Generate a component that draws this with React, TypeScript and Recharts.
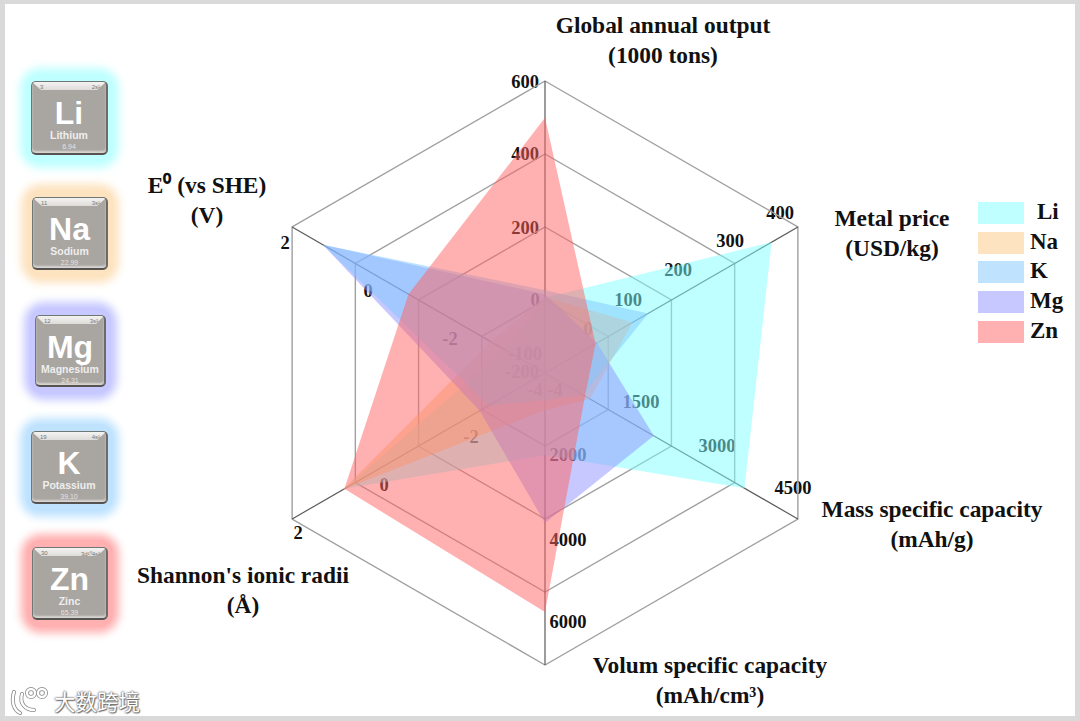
import { RadarChart, Radar, PolarGrid, PolarAngleAxis, PolarRadiusAxis } from "recharts"

const axisNames = ["output", "price", "mass", "volum", "ionic", "e0"]
const axisMin = [-200, -100, 0, 0, -4, -4]
const axisMax = [600, 400, 4500, 6000, 2, 2]

const li = [6, 348, 3550, 1685, 0.76, -3.04]
const na = [8, 73, 800, 760, 0.8, -2.71]
const k = [27, 104, 675, 560, -2.66, 1.27]
const mg = [16, 3, 1935, 3080, -2.45, 1.27]
const zn = [499, 0, 712, 4910, 0.76, -0.76]

const seriesNames = ["Li", "Na", "K", "Mg", "Zn"]
const seriesValues = [li, na, k, mg, zn]
const seriesColors = ["#7fffff", "#fbc77f", "#7fc7ff", "#8d91ff", "#ff6161"]
const swatchColors = ["#bfffff", "#fde3bf", "#bfe3ff", "#c6c8ff", "#ffb0b0"]
// K goes over Mg in the picture, the legend keeps its own order
const drawOrder = [0, 1, 3, 2, 4]

const chartData = axisNames.map((axis, i) => {
  const row: Record<string, string | number> = { axis }
  seriesNames.forEach((name, s) => {
    row[name] = (seriesValues[s][i] - axisMin[i]) / (axisMax[i] - axisMin[i])
  })
  return row
})

const titles = [
  { x: 663, y: 33, lines: ["Global annual output", "(1000 tons)"] },
  { x: 892, y: 226, lines: ["Metal price", "(USD/kg)"] },
  { x: 932, y: 517, lines: ["Mass specific capacity", "(mAh/g)"] },
  { x: 710, y: 673, lines: ["Volum specific capacity", "(mAh/cm³)"] },
  { x: 243, y: 583, lines: ["Shannon's ionic radii", "(Å)"] },
  { x: 207, y: 193, lines: ["E⁰ (vs SHE)", "(V)"] },
]

const tickLabels = [
  { t: "600", x: 525, y: 82 }, { t: "400", x: 525, y: 154 }, { t: "200", x: 525, y: 228 }, { t: "0", x: 535, y: 300 },
  { t: "-200", x: 522, y: 372 }, { t: "-100", x: 525, y: 354 },
  { t: "400", x: 780, y: 213 }, { t: "300", x: 730, y: 241 }, { t: "200", x: 678, y: 270 }, { t: "100", x: 628, y: 300 }, { t: "0", x: 588, y: 329 },
  { t: "4500", x: 793, y: 488 }, { t: "3000", x: 717, y: 446 }, { t: "1500", x: 641, y: 402 },
  { t: "2000", x: 568, y: 455 }, { t: "4000", x: 568, y: 540 }, { t: "6000", x: 568, y: 622 },
  { t: "2", x: 298, y: 533 }, { t: "0", x: 384, y: 485 }, { t: "-2", x: 471, y: 437 }, { t: "-4", x: 555, y: 390 },
  { t: "2", x: 285, y: 243 }, { t: "0", x: 368, y: 291 }, { t: "-2", x: 450, y: 339 }, { t: "-4", x: 535, y: 390 },
]

const tiles = [
  { sym: "Li", name: "Lithium", mass: "6.94", no: "3", cfg: "2s¹", x: 31, y: 81, w: 77, h: 74, glow: "#bfffff" },
  { sym: "Na", name: "Sodium", mass: "22.99", no: "11", cfg: "3s¹", x: 32, y: 197, w: 76, h: 73, glow: "#fde3bf" },
  { sym: "Mg", name: "Magnesium", mass: "24.31", no: "12", cfg: "3s²", x: 35, y: 315, w: 71, h: 72, glow: "#c6c8ff" },
  { sym: "K", name: "Potassium", mass: "39.10", no: "19", cfg: "4s¹", x: 31, y: 431, w: 77, h: 73, glow: "#bfe3ff" },
  { sym: "Zn", name: "Zinc", mass: "65.39", no: "30", cfg: "3d¹⁰4s²", x: 32, y: 547, w: 76, h: 73, glow: "#ffb0b0" },
]

const serif = "'Liberation Serif', serif"
const sans = "'Liberation Sans', sans-serif"

function AxisTitle({ index }: any) {
  const title = titles[index]
  if (!title) return null
  return (
    <text x={title.x} y={title.y} textAnchor="middle" fontFamily={serif} fontWeight="bold" fontSize={23.4} fill="#111">
      {title.lines.map((line, i) => (
        <tspan key={i} x={title.x} dy={i === 0 ? 0 : 30}>
          {line}
        </tspan>
      ))}
    </text>
  )
}

function ElementTile({ tile }: { tile: (typeof tiles)[number] }) {
  return (
    <>
      <div
        style={{
          position: "absolute",
          left: tile.x - 5,
          top: tile.y - 7,
          width: tile.w + 10,
          height: tile.h + 14,
          borderRadius: 14,
          background: tile.glow,
          boxShadow: `0 0 8px 6px ${tile.glow}`,
        }}
      />
      <div
        style={{
          position: "absolute",
          left: tile.x,
          top: tile.y,
          width: tile.w,
          height: tile.h,
          boxSizing: "border-box",
          borderRadius: 5,
          border: "1px solid #6f7774",
          borderBottom: "2px solid #55524f",
          borderRight: "2px solid #6d6a68",
          background: "#a9a5a0",
          boxShadow: "inset 0 -2px 2px #d8d6d3",
          color: "#fff",
          fontFamily: sans,
          textAlign: "center",
          overflow: "hidden",
        }}
      >
        <div
          style={{
            position: "absolute",
            left: 0,
            right: 0,
            top: 0,
            height: 8,
            background: "linear-gradient(#f4f3f1, #dedcd9)",
            clipPath: "polygon(0 0, 100% 0, 88% 100%, 12% 100%)",
          }}
        />
        <div style={{ position: "absolute", left: 8, top: 2, fontSize: 6, color: "#777" }}>{tile.no}</div>
        <div style={{ position: "absolute", right: 6, top: 2, fontSize: 6, color: "#777" }}>{tile.cfg}</div>
        <div style={{ position: "absolute", left: 0, right: 0, top: 14, fontSize: 32, fontWeight: "bold", lineHeight: "34px" }}>
          {tile.sym}
        </div>
        <div style={{ position: "absolute", left: 0, right: 0, top: 47, fontSize: 10.5, fontWeight: "bold", lineHeight: "12px", color: "#eee" }}>
          {tile.name}
        </div>
        <div style={{ position: "absolute", left: 0, right: 0, top: 60, fontSize: 7, lineHeight: "9px", color: "#e4e4e4" }}>{tile.mass}</div>
      </div>
    </>
  )
}

export default function App() {
  return (
    <div style={{ position: "absolute", left: 0, top: 0, width: 1080, height: 721, background: "#d9d9d9", overflow: "hidden" }}>
      <div style={{ position: "absolute", left: 5, top: 4, width: 1070, height: 712, background: "#fff" }} />

      <svg width={1080} height={721} style={{ position: "absolute", left: 0, top: 0 }}>
        {tickLabels.map((l, i) => (
          <text key={i} x={l.x} y={l.y} dy="0.35em" textAnchor="middle" fontFamily={serif} fontWeight="bold" fontSize={18.5} fill="#111">
            {l.t}
          </text>
        ))}
      </svg>

      <div style={{ position: "absolute", left: 0, top: 0 }}>
        <RadarChart width={1080} height={721} data={chartData} cx={545} cy={373} outerRadius={292} margin={{ top: 0, right: 0, bottom: 0, left: 0 }}>
          <PolarGrid gridType="polygon" polarRadius={[73, 146, 219, 292]} radialLines={false} stroke="#a0a0a0" strokeWidth={1.4} />
          <PolarGrid gridType="polygon" polarRadius={[]} stroke="#5a5a5a" strokeWidth={1.2} />
          <PolarAngleAxis dataKey="axis" tick={<AxisTitle />} axisLine={false} tickLine={false} />
          <PolarRadiusAxis domain={[0, 1]} tick={false} axisLine={false} />
          {drawOrder.map((s) => (
            <Radar
              key={seriesNames[s]}
              dataKey={seriesNames[s]}
              name={seriesNames[s]}
              stroke="none"
              fill={seriesColors[s]}
              fillOpacity={0.5}
              isAnimationActive={false}
            />
          ))}
        </RadarChart>
      </div>

      {tiles.map((tile) => (
        <ElementTile key={tile.sym} tile={tile} />
      ))}

      {seriesNames.map((name, s) => (
        <div key={name}>
          <div style={{ position: "absolute", left: 978, top: 202 + s * 29.7, width: 46, height: 22, background: swatchColors[s] }} />
          <div
            style={{
              position: "absolute",
              left: s === 0 ? 1037 : 1030,
              top: 200 + s * 29.7,
              fontFamily: serif,
              fontWeight: "bold",
              fontSize: 23,
              lineHeight: "24px",
              color: "#111",
            }}
          >
            {name}
          </div>
        </div>
      ))}

      <svg width={50} height={30} style={{ position: "absolute", left: 8, top: 686 }}>
        <g fill="none" stroke="#8a8a8a" strokeWidth={4} strokeLinecap="round">
          <path d="M6 6 C3 16 6 24 12 27 M14 8 C11 18 18 24 26 24" />
          <circle cx={23} cy={7} r={4} />
          <circle cx={34} cy={7} r={4} />
        </g>
        <g fill="none" stroke="#fff" strokeWidth={2.4} strokeLinecap="round">
          <path d="M6 6 C3 16 6 24 12 27 M14 8 C11 18 18 24 26 24" />
          <circle cx={23} cy={7} r={4} />
          <circle cx={34} cy={7} r={4} />
        </g>
      </svg>
      <div
        style={{
          position: "absolute",
          left: 54,
          top: 688,
          fontFamily: "'Noto Sans CJK SC'",
          fontSize: 21.5,
          lineHeight: "26px",
          color: "#fff",
          textShadow: "0 0 2px #666, 0 0 2px #666, 1px 1px 1px #777",
        }}
      >
        大数跨境
      </div>
    </div>
  )
}
